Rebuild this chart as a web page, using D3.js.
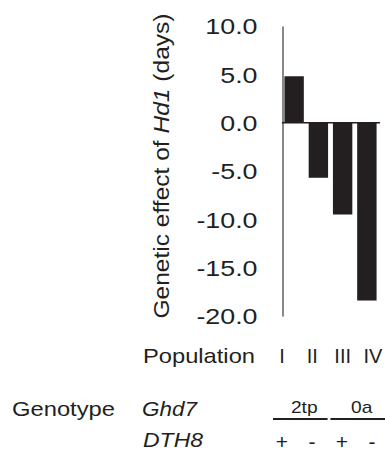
<!DOCTYPE html>
<html lang="en">
<head>
  <meta charset="utf-8">
  <title>Genetic effect of Hd1</title>
  <script src="https://cdn.jsdelivr.net/npm/d3@7"></script>
  <style>
    body { margin: 0; background: #fff; overflow: hidden; }
    svg { display: block; }
    text { font-family: 'Liberation Sans', Arial, sans-serif; fill: #231f20; }
  </style>
</head>
<body>
  <div id="chart"></div>
  <script>
    // data
    const populations = ["I", "II", "III", "IV"];
    const effects = [4.8, -5.7, -9.5, -18.4];
    const yTicks = [10, 5, 0, -5, -10, -15, -20];
    const ghd7Groups = ["2tp", "0a"];
    const dth8Alleles = ["+", "-", "+", "-"];

    const width = 385, height = 457;
    const ink = "#231f20";

    const svg = d3.select("#chart").append("svg")
      .attr("width", width).attr("height", height);

    const x = d3.scaleBand().domain(populations).range([282, 379])
      .paddingInner(0.2).paddingOuter(0.1);
    const y = d3.scaleLinear().domain([-20, 10]).range([316, 26]);

    // y axis: line + labels, no tick marks (plain hyphen for minus)
    const yAxis = svg.append("g")
      .attr("transform", "translate(282.5,0)")
      .call(d3.axisLeft(y).tickValues(yTicks).tickSize(0).tickPadding(25)
        .tickFormat(d => d.toFixed(1)));
    yAxis.select(".domain").attr("stroke", "#3a3a3a").attr("stroke-width", 1.2);
    yAxis.selectAll(".tick text")
      .attr("fill", ink)
      .style("font-family", "'Liberation Sans', Arial, sans-serif")
      .style("font-size", "22px")
      .attr("dy", "0.36em")
      .attr("transform", function () {
        const tx = +d3.select(this).attr("x");
        return `translate(${tx},0) scale(1.22,1) translate(${-tx},0)`;
      });

    // y label
    const yl = svg.append("text")
      .attr("transform", "translate(169,166) rotate(-90)")
      .attr("text-anchor", "middle")
      .attr("textLength", 305).attr("lengthAdjust", "spacingAndGlyphs")
      .style("font-size", "22px");
    yl.append("tspan").text("Genetic effect of ");
    yl.append("tspan").style("font-style", "italic").text("Hd1");
    yl.append("tspan").text(" (days)");

    // bars
    svg.append("g").selectAll("rect")
      .data(populations.map((p, i) => ({ p, v: effects[i] })))
      .join("rect")
      .attr("x", d => x(d.p))
      .attr("width", x.bandwidth())
      .attr("y", d => y(Math.max(0, d.v)))
      .attr("height", d => Math.abs(y(d.v) - y(0)))
      .attr("fill", ink);

    // zero line
    svg.append("line")
      .attr("x1", 282).attr("x2", 380)
      .attr("y1", y(0)).attr("y2", y(0))
      .attr("stroke", ink).attr("stroke-width", 1.5);

    // population row
    svg.append("text").attr("x", 143).attr("y", 363)
      .attr("textLength", 112).attr("lengthAdjust", "spacingAndGlyphs")
      .style("font-size", "21px").text("Population");
    const xLab = d3.scalePoint().domain(populations).range([282, 373]);
    svg.append("g").selectAll("text")
      .data(populations).join("text")
      .attr("x", d => xLab(d)).attr("y", 363)
      .attr("text-anchor", "middle")
      .style("font-size", "20px")
      .text(d => d);

    // genotype rows
    svg.append("text").attr("x", 12).attr("y", 416)
      .attr("textLength", 103).attr("lengthAdjust", "spacingAndGlyphs")
      .style("font-size", "21px").text("Genotype");
    svg.append("text").attr("x", 142).attr("y", 416)
      .attr("textLength", 55).attr("lengthAdjust", "spacingAndGlyphs")
      .style("font-size", "21px").style("font-style", "italic").text("Ghd7");
    svg.append("text").attr("x", 143).attr("y", 447)
      .attr("textLength", 60).attr("lengthAdjust", "spacingAndGlyphs")
      .style("font-size", "21px").style("font-style", "italic").text("DTH8");

    const xGrp = d3.scaleBand().domain(ghd7Groups).range([273, 385]).paddingInner(0.05);
    const grp = svg.append("g").selectAll("g")
      .data(ghd7Groups).join("g");
    grp.append("line")
      .attr("x1", d => xGrp(d)).attr("x2", d => xGrp(d) + xGrp.bandwidth())
      .attr("y1", 419).attr("y2", 419)
      .attr("stroke", ink).attr("stroke-width", 2);
    grp.append("text")
      .attr("x", d => xGrp(d) + xGrp.bandwidth() / 2 + 4).attr("y", 413)
      .attr("text-anchor", "middle")
      .attr("transform", d => {
        const cx = xGrp(d) + xGrp.bandwidth() / 2 + 4;
        return `translate(${cx},0) scale(1.2,1) translate(${-cx},0)`;
      })
      .style("font-size", "16px")
      .text(d => d);

    const xAl = d3.scalePoint().domain(d3.range(dth8Alleles.length)).range([282, 372]);
    svg.append("g").selectAll("text")
      .data(dth8Alleles).join("text")
      .attr("x", (d, i) => xAl(i)).attr("y", 449)
      .attr("text-anchor", "middle")
      .style("font-size", "21px")
      .text(d => d);
  </script>
</body>
</html>
